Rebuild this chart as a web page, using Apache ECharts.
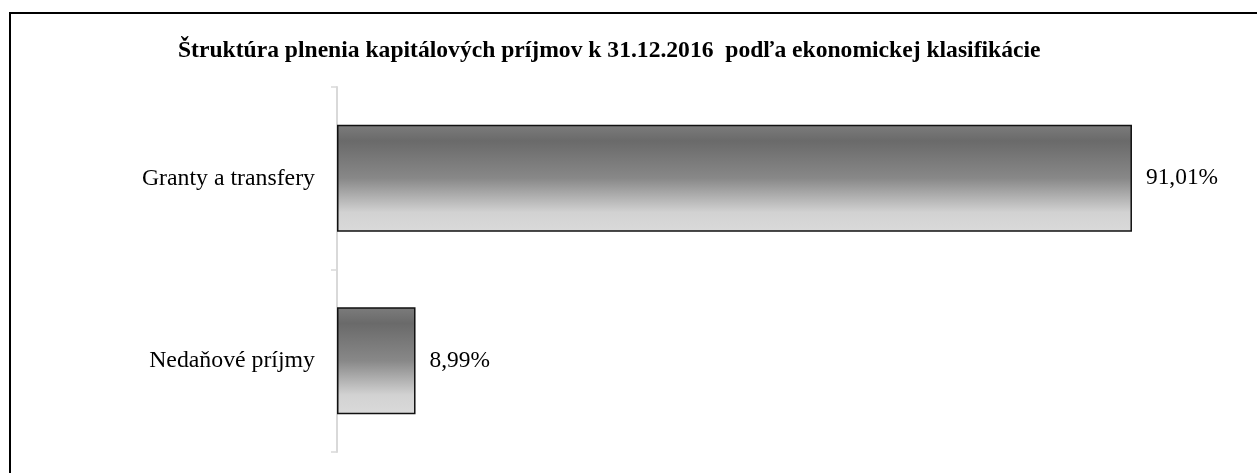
<!DOCTYPE html>
<html>
<head>
<meta charset="utf-8">
<script src="https://cdn.jsdelivr.net/npm/echarts@6/dist/echarts.min.js"></script>
<style>
  html, body { margin: 0; padding: 0; background: #fff; }
  #chart { width: 1257px; height: 473px; }
</style>
</head>
<body>
<div id="chart"></div>
<script>
  // data
  var categories = ['Granty a transfery', 'Nedaňové príjmy']
  var shares = [91.01, 8.99]
  var titleText = 'Štruktúra plnenia kapitálových príjmov k 31.12.2016  podľa ekonomickej klasifikácie'

  var serif = '"Liberation Serif", "DejaVu Serif", serif'

  var chart = echarts.init(document.getElementById('chart'))
  chart.setOption({
    animation: false,
    title: {
      text: titleText,
      left: 178,
      top: 39,
      padding: 0,
      textStyle: {fontFamily: serif, fontSize: 23.6, fontWeight: 'bold', color: '#000'}
    },
    // frame of the embedded chart, cut off at right and bottom
    graphic: [{
      type: 'rect',
      shape: {x: 10, y: 13, width: 1400, height: 600},
      style: {fill: 'none', stroke: '#000', lineWidth: 2},
      silent: true
    }],
    grid: {left: 337, right: 46.5, top: 87, bottom: 21, containLabel: false},
    xAxis: {
      type: 'value',
      min: 0,
      max: 100,
      show: false
    },
    yAxis: {
      type: 'category',
      inverse: true,
      data: categories,
      axisLine: {show: true, lineStyle: {color: '#d9d9d9', width: 2}},
      axisTick: {show: true, length: 6, lineStyle: {color: '#d9d9d9', width: 1.5}},
      axisLabel: {fontFamily: serif, fontSize: 23.8, color: '#000', margin: 22}
    },
    series: [{
      type: 'bar',
      data: shares,
      barWidth: 107,
      itemStyle: {
        borderColor: '#111',
        borderWidth: 1.5,
        color: new echarts.graphic.LinearGradient(0, 0, 0, 1, [
          {offset: 0, color: '#7c7c7c'},
          {offset: 0.15, color: '#6a6a6a'},
          {offset: 0.5, color: '#888888'},
          {offset: 0.82, color: '#d2d2d2'},
          {offset: 1, color: '#dadada'}
        ])
      },
      label: {
        show: true,
        position: 'right',
        distance: 14,
        fontFamily: serif,
        fontSize: 23.4,
        color: '#000',
        formatter: function (p) {
          return p.value.toFixed(2).replace('.', ',') + '%'
        }
      }
    }]
  })
</script>
</body>
</html>
